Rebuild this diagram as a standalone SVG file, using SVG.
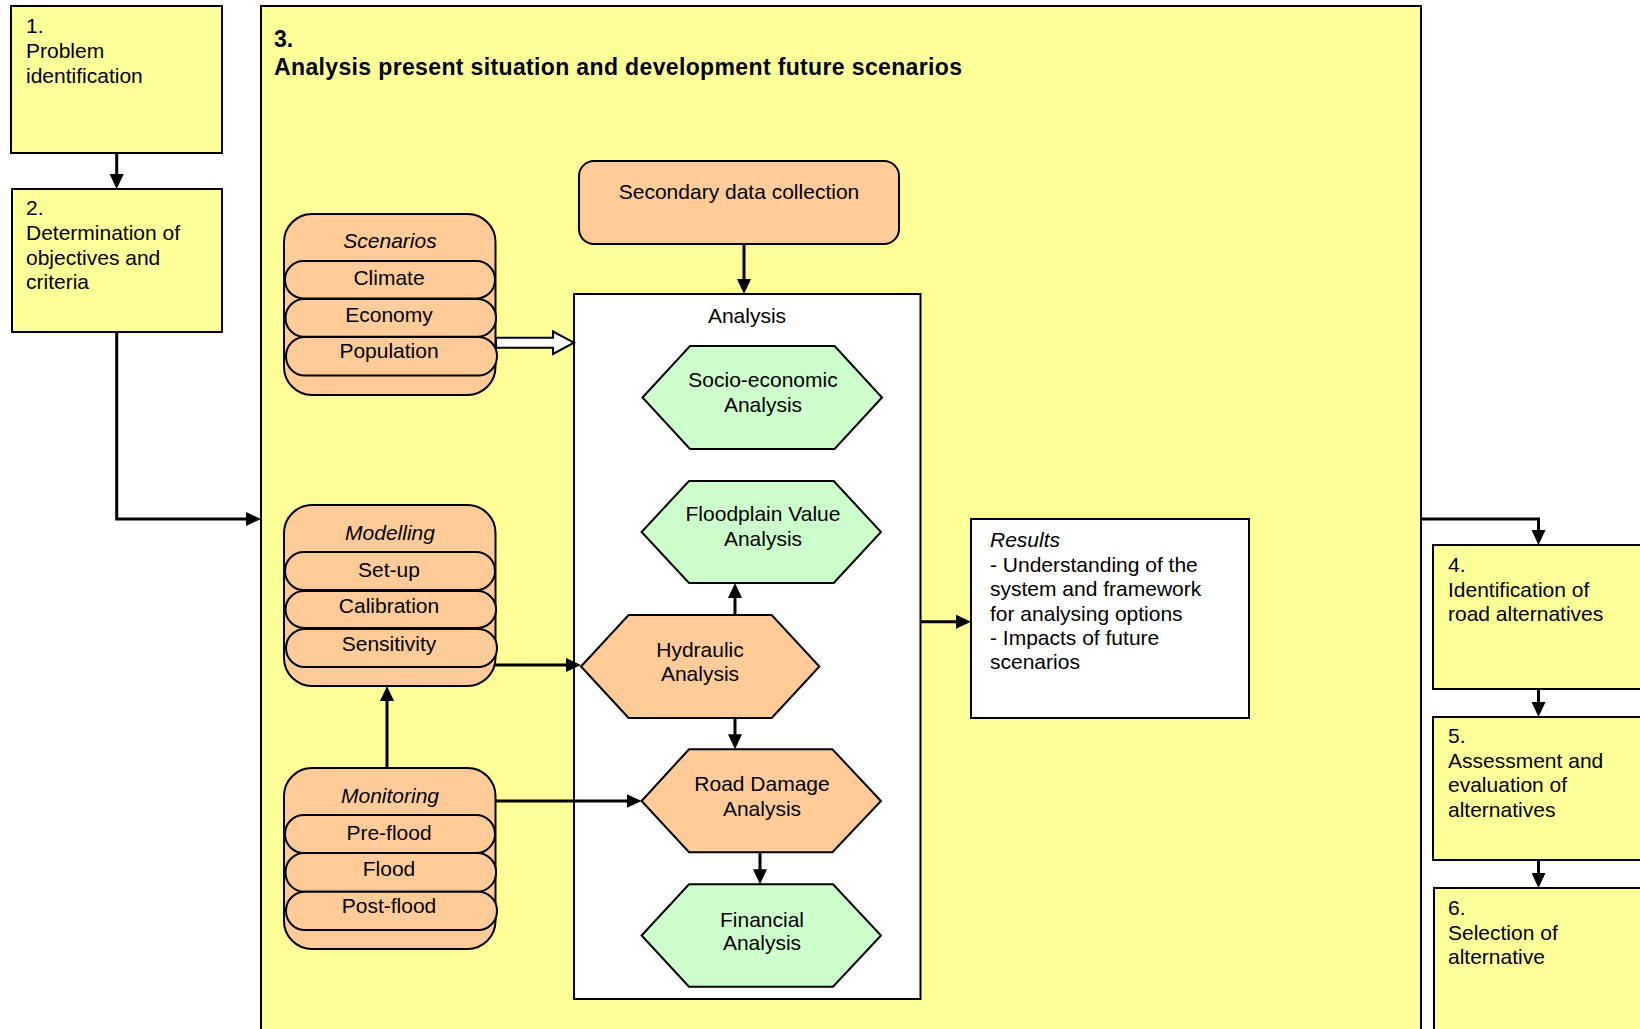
<svg xmlns="http://www.w3.org/2000/svg" width="1640" height="1029" viewBox="0 0 1640 1029">
<style>
text{font-family:"Liberation Sans",Arial,sans-serif;font-size:21px;fill:#000}
.c{text-anchor:middle}
.i{font-style:italic}
.b{font-weight:bold;font-size:23px}
.ybox{fill:#FFFF99;stroke:#000;stroke-width:2}
.wbox{fill:#FFFFFF;stroke:#000;stroke-width:2}
.or{fill:#FFCC99;stroke:#000;stroke-width:2}
.gr{fill:#CCFFCC;stroke:#000;stroke-width:2}
.con{fill:none;stroke:#000;stroke-width:3}
</style>
<defs>
<marker id="ah" viewBox="0 0 15 14" refX="11" refY="7" markerWidth="15" markerHeight="14" markerUnits="userSpaceOnUse" orient="auto">
<path d="M0,0 L15,7 L0,14 z" fill="#000"/>
</marker>
</defs>
<rect x="0" y="0" width="1640" height="1029" fill="#FFFFFF"/>

<g id="box1">
<rect class="ybox" x="11" y="6" width="211" height="147"/>
<text x="26" y="33">1.</text>
<text x="26" y="58">Problem</text>
<text x="26" y="83">identification</text>
</g>
<g id="box2">
<rect class="ybox" x="12" y="189" width="210" height="143"/>
<text x="26" y="215">2.</text>
<text x="26" y="240">Determination of</text>
<text x="26" y="265">objectives and</text>
<text x="26" y="289">criteria</text>
</g>
<g id="box3">
<rect class="ybox" x="261" y="6" width="1160" height="1040"/>
<text class="b" x="274" y="47">3.</text>
<text class="b" x="274" y="75" textLength="688" lengthAdjust="spacing">Analysis present situation and development future scenarios</text>
</g>
<g id="box4">
<rect class="ybox" x="1433" y="545" width="300" height="144"/>
<text x="1448" y="572">4.</text>
<text x="1448" y="597">Identification of</text>
<text x="1448" y="621">road alternatives</text>
</g>
<g id="box5">
<rect class="ybox" x="1433" y="717" width="300" height="143"/>
<text x="1448" y="743">5.</text>
<text x="1448" y="768">Assessment and</text>
<text x="1448" y="792">evaluation of</text>
<text x="1448" y="817">alternatives</text>
</g>
<g id="box6">
<rect class="ybox" x="1434" y="888" width="300" height="200"/>
<text x="1448" y="915">6.</text>
<text x="1448" y="940">Selection of</text>
<text x="1448" y="964">alternative</text>
</g>
<g id="analysis">
<rect class="wbox" x="574" y="294" width="346.5" height="705"/>
<text class="c" x="747" y="323">Analysis</text>
</g>
<g id="results">
<rect class="wbox" x="971" y="519" width="278" height="199"/>
<text class="i" x="990" y="547">Results</text>
<text x="990" y="572">- Understanding of the</text>
<text x="990" y="596">system and framework</text>
<text x="990" y="621">for analysing options</text>
<text x="990" y="645">- Impacts of future</text>
<text x="990" y="669">scenarios</text>
</g>
<g id="secondary">
<rect class="or" x="579" y="161" width="320" height="83" rx="15"/>
<text class="c" x="739" y="199">Secondary data collection</text>
</g>

<g id="connectors">
<path class="con" d="M116.7,153 V185" marker-end="url(#ah)"/>
<path class="con" d="M116.7,332 V519 H257" marker-end="url(#ah)"/>
<path class="con" d="M1421,519 H1538.5 V541" marker-end="url(#ah)"/>
<path class="con" d="M1538.5,689 V713" marker-end="url(#ah)"/>
<path class="con" d="M1538.5,860 V884" marker-end="url(#ah)"/>
<path class="con" d="M744,244 V290" marker-end="url(#ah)"/>
<polygon points="496,337.7 553,337.7 553,331.5 574,342.7 553,354 553,347.7 496,347.7" fill="#FFFFFF" stroke="#000" stroke-width="2"/>
<path class="con" d="M494,665 H577" marker-end="url(#ah)"/>
<path class="con" d="M387,768 V690" marker-end="url(#ah)"/>
<path class="con" d="M495,801 H637.6" marker-end="url(#ah)"/>
<path class="con" d="M735,615 V587" marker-end="url(#ah)"/>
<path class="con" d="M735,718 V745.3" marker-end="url(#ah)"/>
<path class="con" d="M760,852.3 V880.3" marker-end="url(#ah)"/>
<path class="con" d="M920.5,621.7 H967" marker-end="url(#ah)"/>
</g>

<g id="scenarios">
<rect class="or" x="284" y="214" width="211.5" height="181" rx="28"/>
<text class="c i" x="390" y="248">Scenarios</text>
<rect class="or" x="285" y="261" width="210" height="37.5" rx="18.5"/>
<text class="c" x="389" y="285">Climate</text>
<rect class="or" x="285.5" y="299" width="210.5" height="37.7" rx="18.8"/>
<text class="c" x="389" y="321.7">Economy</text>
<rect class="or" x="286" y="337" width="211" height="38.5" rx="19"/>
<text class="c" x="389" y="358">Population</text>
</g>
<g id="modelling">
<rect class="or" x="284" y="505" width="211.5" height="181" rx="28"/>
<text class="c i" x="390" y="540">Modelling</text>
<rect class="or" x="285" y="552" width="210" height="38" rx="19"/>
<text class="c" x="389" y="576.7">Set-up</text>
<rect class="or" x="285.5" y="591" width="210.5" height="37" rx="18.5"/>
<text class="c" x="389" y="613">Calibration</text>
<rect class="or" x="286" y="629" width="211" height="38" rx="19"/>
<text class="c" x="389" y="650.7">Sensitivity</text>
</g>
<g id="monitoring">
<rect class="or" x="284" y="768" width="211.5" height="181" rx="28"/>
<text class="c i" x="390" y="803">Monitoring</text>
<rect class="or" x="285" y="815" width="210" height="38" rx="19"/>
<text class="c" x="389" y="840">Pre-flood</text>
<rect class="or" x="285.5" y="853" width="210.5" height="38.7" rx="19"/>
<text class="c" x="389" y="876">Flood</text>
<rect class="or" x="286" y="891.7" width="211" height="38.3" rx="19"/>
<text class="c" x="389" y="912.7">Post-flood</text>
</g>

<g id="socio">
<polygon class="gr" points="642.5,397.5 690,346 834.6,346 882,397.5 834.6,449 690,449"/>
<text class="c" x="763" y="387">Socio-economic</text>
<text class="c" x="763" y="412">Analysis</text>
</g>
<g id="floodplain">
<polygon class="gr" points="641.6,532 689,481 833.7,481 881,532 833.7,583 689,583"/>
<text class="c" x="763" y="520.7">Floodplain Value</text>
<text class="c" x="763" y="546">Analysis</text>
</g>
<g id="hydraulic">
<polygon class="or" points="581,666.5 628.6,615 771.7,615 819.4,666.5 771.7,718 628.6,718"/>
<text class="c" x="700" y="656.7">Hydraulic</text>
<text class="c" x="700" y="681">Analysis</text>
</g>
<g id="roaddamage">
<polygon class="or" points="641.6,801 689,749.3 832.4,749.3 881,801 832.4,852.3 689,852.3"/>
<text class="c" x="762" y="790.7">Road Damage</text>
<text class="c" x="762" y="816">Analysis</text>
</g>
<g id="financial">
<polygon class="gr" points="641.6,935.5 689,884.3 833,884.3 881,935.5 833,986.7 689,986.7"/>
<text class="c" x="762" y="926.7">Financial</text>
<text class="c" x="762" y="950">Analysis</text>
</g>
</svg>
